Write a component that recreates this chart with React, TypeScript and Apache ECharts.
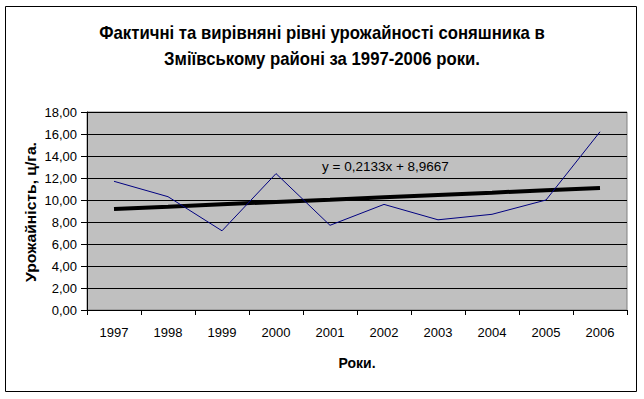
import React, { useEffect, useRef } from "react";
import * as echarts from "echarts";

const years = ["1997", "1998", "1999", "2000", "2001", "2002", "2003", "2004", "2005", "2006"];
const actualYield = [11.7, 10.3, 7.2, 12.4, 7.7, 9.6, 8.2, 8.7, 10.0, 16.2];
const trendYield = [9.18, 9.39, 9.61, 9.82, 10.03, 10.25, 10.46, 10.67, 10.89, 11.10];
const titleLines = [
  "Фактичні та вирівняні рівні урожайності соняшника в",
  "Зміївському районі за 1997-2006 роки.",
];
const yAxisTitle = "Урожайність, ц/га.";
const xAxisTitle = "Роки.";
const equationText = "y = 0,2133x + 8,9667";

export default function App() {
  const ref = useRef<HTMLDivElement>(null);
  useEffect(() => {
    if (!ref.current) return;
    const chart = echarts.init(ref.current, null, { renderer: "svg" });
    const font = "Arial, 'Liberation Sans', sans-serif";
    chart.setOption({
      animation: false,
      backgroundColor: "#ffffff",
      textStyle: { fontFamily: font },
      grid: {
        left: 87,
        right: 17,
        top: 112,
        bottom: 89,
        show: true,
        backgroundColor: "#c0c0c0",
        borderColor: "#808080",
        borderWidth: 1,
      },
      xAxis: {
        type: "category",
        data: years,
        boundaryGap: true,
        name: xAxisTitle,
        nameLocation: "middle",
        nameGap: 46,
        nameTextStyle: { fontSize: 14, fontWeight: "bold", color: "#000", fontFamily: font },
        axisLine: { lineStyle: { color: "#000", width: 1 } },
        axisTick: { show: true, alignWithLabel: false, length: 5, lineStyle: { color: "#000" } },
        axisLabel: { color: "#000", fontSize: 13, margin: 16, fontFamily: font },
        splitLine: { show: false },
      },
      yAxis: {
        type: "value",
        min: 0,
        max: 18,
        interval: 2,
        axisLine: { show: true, lineStyle: { color: "#000", width: 1 } },
        axisTick: { show: true, length: 6, lineStyle: { color: "#000" } },
        axisLabel: {
          color: "#000",
          fontSize: 13,
          margin: 10,
          fontFamily: font,
          formatter: (v: number) => v.toFixed(2).replace(".", ","),
        },
        splitLine: { show: true, lineStyle: { color: "#000", width: 1 } },
      },
      series: [
        {
          type: "line",
          data: actualYield,
          symbol: "none",
          lineStyle: { color: "#000080", width: 1 },
          z: 3,
        },
        {
          type: "line",
          data: trendYield,
          symbol: "none",
          lineStyle: { color: "#000000", width: 4 },
          z: 2,
        },
      ],
      graphic: [
        {
          type: "rect",
          shape: { x: 5.5, y: 6.5, width: 631, height: 385 },
          style: { fill: "none", stroke: "#000", lineWidth: 1 },
          silent: true,
          z: 100,
        },
        {
          type: "text",
          x: 322,
          y: 33,
          scaleX: 0.93,
          style: {
            text: titleLines[0],
            fontSize: 18,
            fontWeight: "bold",
            fill: "#000",
            fontFamily: font,
            textAlign: "center",
            textVerticalAlign: "middle",
          },
          z: 100,
        },
        {
          type: "text",
          x: 322,
          y: 59,
          scaleX: 0.93,
          style: {
            text: titleLines[1],
            fontSize: 18,
            fontWeight: "bold",
            fill: "#000",
            fontFamily: font,
            textAlign: "center",
            textVerticalAlign: "middle",
          },
          z: 100,
        },
        {
          type: "text",
          x: 31,
          y: 212,
          rotation: Math.PI / 2,
          scaleX: 1.12,
          style: {
            text: yAxisTitle,
            fontSize: 14,
            fontWeight: "bold",
            fill: "#000",
            fontFamily: font,
            textAlign: "center",
            textVerticalAlign: "middle",
          },
          z: 100,
        },
        {
          type: "text",
          x: 322,
          y: 166,
          style: {
            text: equationText,
            fontSize: 13.5,
            fill: "#000",
            fontFamily: font,
            textVerticalAlign: "middle",
          },
          z: 100,
        },
      ],
    });
    return () => chart.dispose();
  }, []);
  return <div ref={ref} style={{ position: "fixed", left: 0, top: 0, width: 644, height: 399 }} />;
}
